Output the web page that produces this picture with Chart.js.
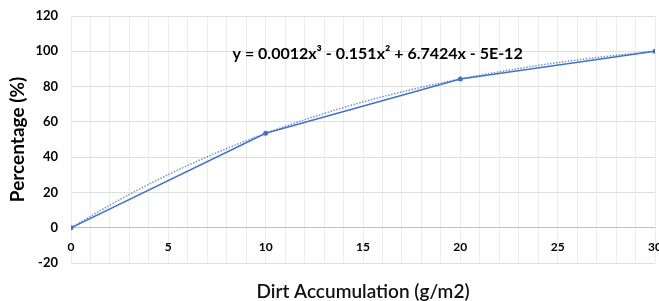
<!DOCTYPE html>
<html>
<head>
<meta charset="utf-8">
<script src="https://cdn.jsdelivr.net/npm/chart.js@4"></script>
<style>
html,body{margin:0;padding:0;background:#fff;}
#wrap{width:659px;height:301px;}
</style>
</head>
<body>
<div id="wrap"><canvas id="dirtChart"></canvas></div>
<script>
// data
const dirtX = [0, 10, 20, 30];
const percentY = [0, 53.5, 84.3, 100];

// titik garis tren (polinomial orde 3), dibaca dari garis putus-putus
const trendX = [0, 2.5, 5, 7.5, 10, 12.5, 15, 17.5, 20, 22.5, 25, 27.5, 30];
const trendY = [0, 15.9, 30.1, 42.6, 53.5, 63.0, 71.3, 78.3, 84.3, 89.3, 93.6, 97.1, 100];

const equationText = "y = 0.0012x³ - 0.151x² + 6.7424x - 5E-12";
const xTitle = "Dirt Accumulation (g/m2)";
const yTitle = "Percentage (%)";

const FONT = "Lato, 'Open Sans', sans-serif";

function pts(xs, ys){
    return xs.map((x,i)=>({x:x, y:ys[i]}));
}

// tulis persamaan tren
const equationPlugin = {
    id:"equation",
    afterDatasetsDraw(chart){
        const c = chart.ctx;
        const xs = chart.scales.x;
        const ys = chart.scales.y;
        c.save();
        c.font = "bold 16px " + FONT;
        c.fillStyle = "#000";
        c.textBaseline = "middle";
        c.textAlign = "left";
        c.fillText(equationText, xs.getPixelForValue(8.3), ys.getPixelForValue(98.5));
        c.restore();
    }
};

new Chart(document.getElementById("dirtChart"),{
    type:"scatter",
    data:{
        datasets:[
            {
                label:"Trend",
                data:pts(trendX, trendY),
                showLine:true,
                borderColor:"rgba(68,114,196,0.75)",
                borderWidth:1.5,
                borderDash:[1.5,1.5],
                pointRadius:0,
                cubicInterpolationMode:"monotone"
            },
            {
                label:"Data",
                data:pts(dirtX, percentY),
                showLine:true,
                borderColor:"#4472C4",
                backgroundColor:"#4472C4",
                borderWidth:1.5,
                pointRadius:2.5,
                pointBorderWidth:0,
                tension:0
            }
        ]
    },
    options:{
        responsive:true,
        maintainAspectRatio:false,
        animation:false,
        layout:{
            padding:{left:6, right:4, top:16, bottom:0}
        },
        plugins:{
            legend:{display:false},
            tooltip:{enabled:false}
        },
        scales:{
            x:{
                type:"linear",
                min:0,
                max:30,
                afterFit(s){
                    s.height = 38;
                    s.paddingRight = 0;
                    s.paddingLeft = 0;
                },
                ticks:{
                    stepSize:1,
                    autoSkip:false,
                    maxRotation:0,
                    mirror:true,
                    padding:9,
                    color:"#000",
                    font:{family:FONT, size:12, weight:"bold"},
                    callback:v=> v%5===0 ? String(v) : ""
                },
                grid:{
                    color:"#ececec",
                    drawTicks:false
                },
                border:{display:false},
                title:{
                    display:true,
                    text:xTitle,
                    color:"#111",
                    padding:{top:0, bottom:-2},
                    font:{family:FONT, size:19, weight:"600"}
                }
            },
            y:{
                min:-20,
                max:120,
                afterFit(s){
                    s.width = 65;
                    s.paddingTop = 0;
                    s.paddingBottom = 0;
                },
                ticks:{
                    stepSize:20,
                    padding:13,
                    color:"#000",
                    font:{family:FONT, size:13, weight:"bold"}
                },
                grid:{
                    color:ctx=> ctx.tick && ctx.tick.value===0 ? "#bfbfbf" : "#dedede",
                    drawTicks:false
                },
                border:{display:false},
                title:{
                    display:true,
                    text:yTitle,
                    color:"#000",
                    padding:0,
                    font:{family:FONT, size:19, weight:"bold"}
                }
            }
        }
    },
    plugins:[equationPlugin]
});
</script>
</body>
</html>
